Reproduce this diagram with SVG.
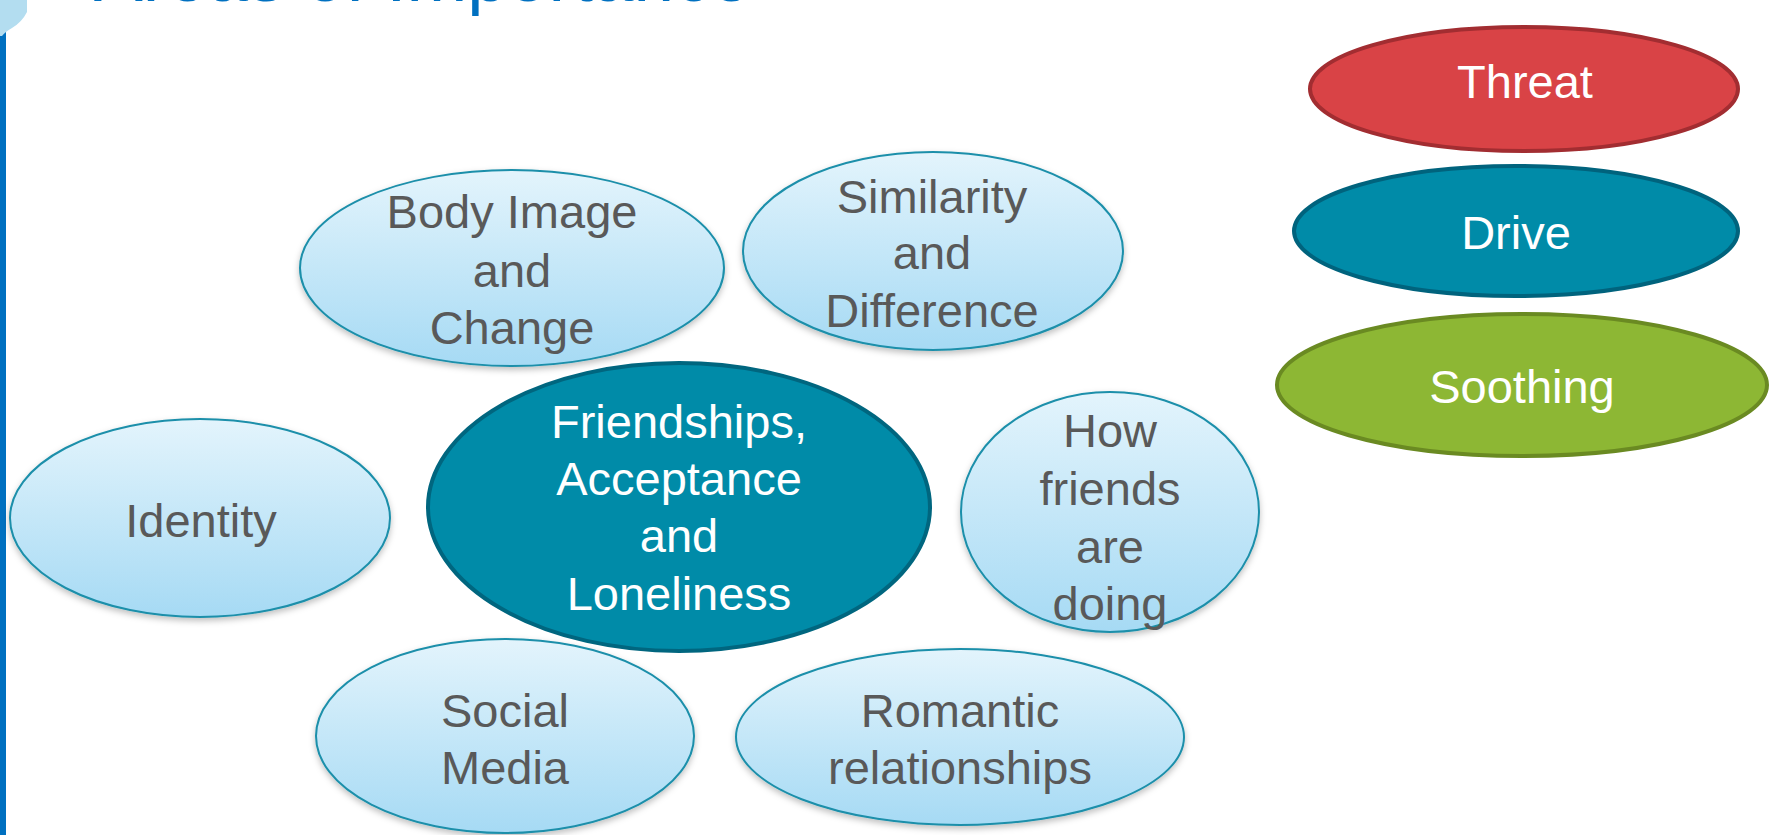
<svg xmlns="http://www.w3.org/2000/svg" width="1770" height="835" viewBox="0 0 1770 835">
  <style>
    text { font-family: "Liberation Sans", Arial, sans-serif; font-size: 47px; text-anchor: middle; }
    .dark { fill: #595959; }
    .light { fill: #ffffff; }
    .bubble { fill: url(#lightGrad); stroke: #1B8FAA; stroke-width: 2; filter: url(#shadow); }
    .title { font-size: 73px; fill: #0070C0; text-anchor: start; }
  </style>
  <defs>
    <linearGradient id="lightGrad" x1="0" y1="0" x2="0" y2="1">
      <stop offset="0" stop-color="#E3F4FC"/>
      <stop offset="1" stop-color="#A6DAF4"/>
    </linearGradient>
    <filter id="shadow" x="-10%" y="-10%" width="120%" height="130%">
      <feDropShadow dx="0" dy="3" stdDeviation="3" flood-color="#000000" flood-opacity="0.25"/>
    </filter>
  </defs>

  <rect x="0" y="0" width="1770" height="835" fill="#ffffff"/>

  <!-- left decoration -->
  <g id="sidebar">
    <rect x="0" y="30" width="6" height="805" fill="#0070C0"/>
    <path d="M0 0 L27 0 L27 12 Q22 22 12 28 Q5 32 2 36 L0 36 Z" fill="#B3DDF0"/>
  </g>

  <!-- title (cut off at top) -->
  <text class="title" x="94" y="1">Areas of Importance</text>

  <g id="connectors"></g>

  <g id="node-body-image">
    <ellipse class="bubble" cx="512" cy="268" rx="212" ry="98"/>
    <text class="dark" x="512" y="228">Body Image</text>
    <text class="dark" x="512" y="287">and</text>
    <text class="dark" x="512" y="344">Change</text>
  </g>

  <g id="node-similarity">
    <ellipse class="bubble" cx="933" cy="251" rx="190" ry="99"/>
    <text class="dark" x="932" y="213">Similarity</text>
    <text class="dark" x="932" y="269">and</text>
    <text class="dark" x="932" y="327">Difference</text>
  </g>

  <g id="node-identity">
    <ellipse class="bubble" cx="200" cy="518" rx="190" ry="99"/>
    <text class="dark" x="201" y="537">Identity</text>
  </g>

  <g id="node-how-friends">
    <ellipse class="bubble" cx="1110" cy="512" rx="149" ry="120"/>
    <text class="dark" x="1110" y="447">How</text>
    <text class="dark" x="1110" y="505">friends</text>
    <text class="dark" x="1110" y="563">are</text>
    <text class="dark" x="1110" y="620">doing</text>
  </g>

  <g id="node-social-media">
    <ellipse class="bubble" cx="505" cy="736" rx="189" ry="97"/>
    <text class="dark" x="505" y="727">Social</text>
    <text class="dark" x="505" y="784">Media</text>
  </g>

  <g id="node-romantic">
    <ellipse class="bubble" cx="960" cy="737" rx="224" ry="88"/>
    <text class="dark" x="960" y="727">Romantic</text>
    <text class="dark" x="960" y="784">relationships</text>
  </g>

  <g id="node-friendships">
    <ellipse cx="679" cy="507" rx="251" ry="144" fill="#008BA8" stroke="#00667F" stroke-width="4"/>
    <text class="light" x="679" y="438">Friendships,</text>
    <text class="light" x="679" y="495">Acceptance</text>
    <text class="light" x="679" y="552">and</text>
    <text class="light" x="679" y="610">Loneliness</text>
  </g>

  <g id="node-threat">
    <ellipse cx="1524" cy="89" rx="214" ry="62" fill="#D94346" stroke="#A22D31" stroke-width="4"/>
    <text class="light" x="1525" y="98">Threat</text>
  </g>

  <g id="node-drive">
    <ellipse cx="1516" cy="231" rx="222" ry="65" fill="#008BA8" stroke="#00637D" stroke-width="4"/>
    <text class="light" x="1516" y="249">Drive</text>
  </g>

  <g id="node-soothing">
    <ellipse cx="1522" cy="385" rx="245" ry="71" fill="#8DB734" stroke="#6A8A22" stroke-width="4"/>
    <text class="light" x="1522" y="403">Soothing</text>
  </g>
</svg>
